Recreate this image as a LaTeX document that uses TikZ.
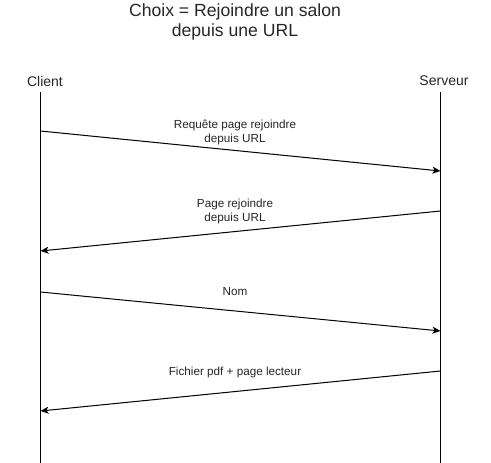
\documentclass[tikz,border=0pt]{standalone}
\usepackage{fontspec}
\setmainfont{Liberation Sans}
\usetikzlibrary{arrows.meta}
\begin{document}
\begin{tikzpicture}[x=1pt,y=-1pt,
  title/.style={font=\fontsize{17.6}{20}\selectfont, text=black!85, align=center, inner sep=0},
  actor/.style={font=\fontsize{14}{16}\selectfont, text=black!85, inner sep=0},
  msglabel/.style={font=\fontsize{11.7}{14}\selectfont, text=black!85, align=center, inner sep=0},
  life/.style={line width=1pt, black},
  msg/.style={line width=1pt, black, -{Stealth[length=8pt,width=7pt,inset=2pt]}}]
\useasboundingbox (0,0) rectangle (491,463);
\node[title] (t) at (235,22) {Choix = Rejoindre un salon\\depuis une URL};
\node[actor] (client) at (45,81) {Client};
\node[actor] (serveur) at (444,81) {Serveur};
\coordinate (ctop) at (40.5,92);
\coordinate (cbot) at (40.5,463);
\coordinate (stop) at (440.5,92);
\coordinate (sbot) at (440.5,463);
\draw[life] (ctop) -- (cbot);
\draw[life] (stop) -- (sbot);
\coordinate (c1) at (40.5,131);
\coordinate (s1) at (440.5,171);
\coordinate (s2) at (440.5,211);
\coordinate (c2) at (40.5,251);
\coordinate (c3) at (40.5,292);
\coordinate (s3) at (440.5,331);
\coordinate (s4) at (440.5,371);
\coordinate (c4) at (40.5,411);
\draw[msg] (c1) -- (s1);
\draw[msg] (s2) -- (c2);
\draw[msg] (c3) -- (s3);
\draw[msg] (s4) -- (c4);
\node[msglabel] (l1) at (235,132) {Requête page rejoindre\\depuis URL};
\node[msglabel] (l2) at (235,211) {Page rejoindre\\depuis URL};
\node[msglabel] (l3) at (235,292) {Nom};
\node[msglabel] (l4) at (235,372) {Fichier pdf + page lecteur};
\end{tikzpicture}
\end{document}
